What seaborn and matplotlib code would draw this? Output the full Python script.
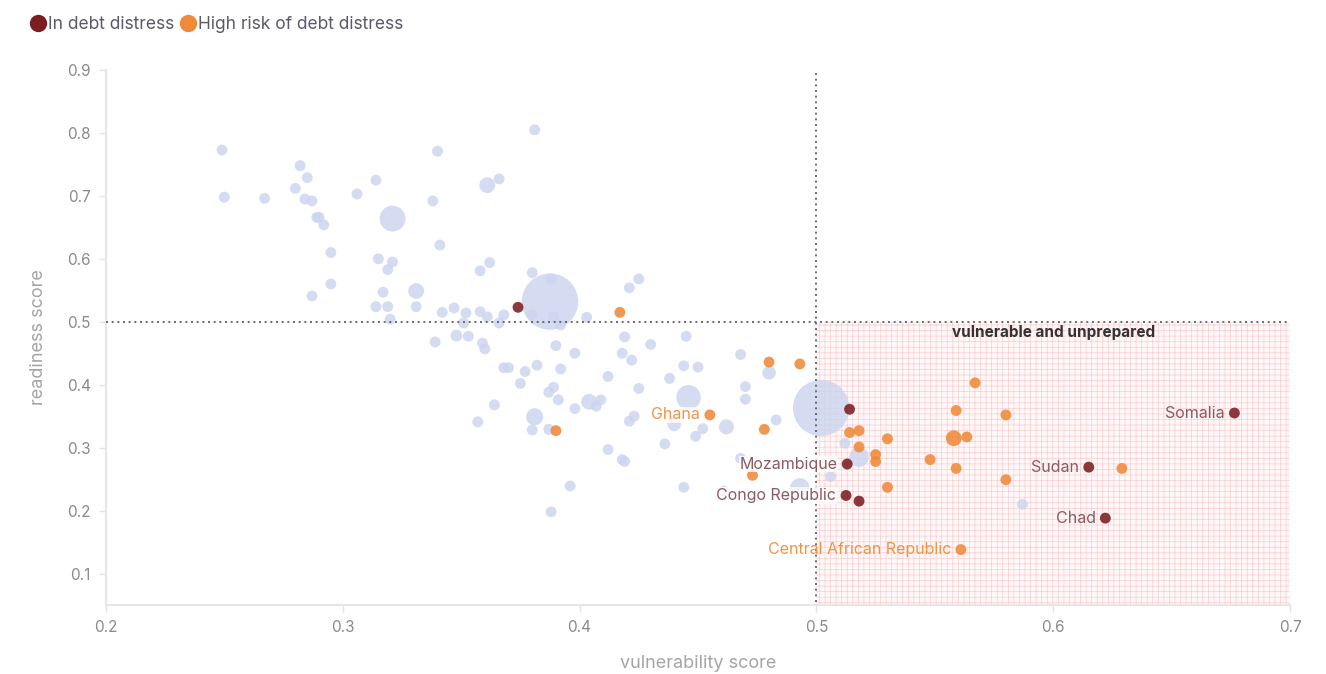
import matplotlib
matplotlib.use("Agg")
import matplotlib.pyplot as plt
from matplotlib.lines import Line2D
from matplotlib.patches import Rectangle
import numpy as np
import pandas as pd
import seaborn as sns

# countries not at risk (lavender bubbles), size ~ population
other_x = [0.249, 0.250, 0.267, 0.282, 0.285, 0.280, 0.284, 0.287, 0.289, 0.290, 0.292, 0.295, 0.295, 0.287,
           0.306, 0.314, 0.321, 0.340, 0.338, 0.341, 0.315, 0.321, 0.319, 0.317, 0.331, 0.314, 0.319, 0.331,
           0.342, 0.347, 0.320,
           0.381, 0.361, 0.366, 0.362, 0.358, 0.380, 0.3875, 0.388, 0.425, 0.421, 0.352, 0.358, 0.368, 0.403,
           0.351, 0.361, 0.366, 0.380, 0.389, 0.392, 0.339, 0.348, 0.353, 0.359, 0.360, 0.390, 0.398, 0.368,
           0.370, 0.377, 0.382, 0.392, 0.375, 0.389, 0.387, 0.391, 0.364, 0.404, 0.398, 0.381, 0.357, 0.380,
           0.387, 0.396, 0.388,
           0.419, 0.430, 0.445, 0.418, 0.422, 0.468, 0.480, 0.412, 0.444, 0.450, 0.438, 0.425, 0.446, 0.470,
           0.470, 0.409, 0.407, 0.423, 0.421, 0.440, 0.452, 0.449, 0.462, 0.483, 0.436, 0.502, 0.412, 0.418,
           0.419, 0.468, 0.444, 0.461, 0.493,
           0.512, 0.518, 0.506, 0.587]
other_y = [0.773, 0.698, 0.696, 0.748, 0.729, 0.712, 0.695, 0.692, 0.666, 0.666, 0.654, 0.610, 0.560, 0.541,
           0.703, 0.725, 0.664, 0.771, 0.692, 0.622, 0.600, 0.595, 0.583, 0.547, 0.549, 0.524, 0.524, 0.524,
           0.515, 0.522, 0.504,
           0.805, 0.717, 0.727, 0.594, 0.581, 0.578, 0.532, 0.568, 0.568, 0.554, 0.514, 0.516, 0.511, 0.507,
           0.498, 0.508, 0.498, 0.511, 0.508, 0.495, 0.468, 0.478, 0.477, 0.466, 0.457, 0.462, 0.450, 0.427,
           0.427, 0.421, 0.431, 0.425, 0.402, 0.396, 0.388, 0.376, 0.368, 0.373, 0.362, 0.349, 0.341, 0.328,
           0.329, 0.239, 0.198,
           0.476, 0.464, 0.477, 0.450, 0.439, 0.448, 0.419, 0.413, 0.430, 0.428, 0.410, 0.394, 0.380, 0.397,
           0.377, 0.376, 0.366, 0.350, 0.342, 0.337, 0.330, 0.318, 0.333, 0.344, 0.306, 0.363, 0.297, 0.281,
           0.278, 0.283, 0.237, 0.231, 0.236,
           0.307, 0.285, 0.254, 0.210]
other_pop = [10, 10, 10, 10, 10, 10, 10, 10, 10, 10, 10, 10, 10, 10,
             10, 10, 260, 10, 10, 10, 10, 10, 10, 10, 70, 10, 10, 10,
             10, 10, 10,
             10, 70, 10, 10, 10, 10, 1400, 10, 10, 10, 10, 10, 10, 10,
             10, 10, 10, 10, 10, 10, 10, 20, 10, 10, 10, 10, 10, 10,
             10, 10, 10, 10, 10, 10, 10, 10, 10, 70, 10, 90, 10, 10,
             10, 10, 10,
             10, 10, 10, 10, 10, 10, 40, 10, 10, 10, 10, 10, 230, 10,
             10, 10, 10, 10, 10, 40, 10, 10, 60, 10, 10, 1400, 10, 10,
             10, 10, 10, 10, 130,
             10, 130, 10, 10]

# high risk of debt distress
high_x = [0.417, 0.390, 0.455, 0.480, 0.493, 0.478, 0.473, 0.514, 0.518, 0.530, 0.518, 0.525, 0.525, 0.530,
          0.548, 0.567, 0.559, 0.580, 0.558, 0.5635, 0.559, 0.580, 0.629, 0.561]
high_y = [0.515, 0.327, 0.352, 0.436, 0.433, 0.329, 0.256, 0.324, 0.327, 0.314, 0.301, 0.289, 0.278, 0.237,
          0.281, 0.403, 0.359, 0.352, 0.315, 0.317, 0.267, 0.249, 0.267, 0.138]
high_pop = [10, 10, 10, 10, 10, 10, 10, 10, 10, 10, 10, 10, 10, 10,
            10, 10, 10, 10, 70, 10, 10, 10, 10, 10]

# in debt distress
distress_x = [0.374, 0.514, 0.513, 0.5125, 0.518, 0.615, 0.622, 0.6765]
distress_y = [0.523, 0.361, 0.274, 0.224, 0.215, 0.269, 0.188, 0.355]
distress_pop = [10, 10, 10, 10, 10, 10, 10, 10]

# labelled countries
label_names = ["Ghana", "Mozambique", "Congo Republic", "Central African Republic", "Somalia", "Sudan", "Chad"]
label_x = [0.455, 0.513, 0.5125, 0.561, 0.6765, 0.615, 0.622]
label_y = [0.352, 0.274, 0.224, 0.138, 0.355, 0.269, 0.188]
label_group = ["high", "distress", "distress", "high", "distress", "distress", "distress"]

LAVENDER = "#cbd4ef"
ORANGE = "#ef8a3a"
DARKRED = "#7a1e22"

sns.set_theme(style="white")
plt.rcParams["font.family"] = ["Inter", "DejaVu Sans"]
plt.rcParams["hatch.linewidth"] = 0.5

others = pd.DataFrame({"x": other_x, "y": other_y, "pop": other_pop})
risk = pd.concat([
    pd.DataFrame({"x": high_x, "y": high_y, "pop": high_pop, "status": "High risk of debt distress"}),
    pd.DataFrame({"x": distress_x, "y": distress_y, "pop": distress_pop, "status": "In debt distress"}),
], ignore_index=True)

fig = plt.figure(figsize=(13.26, 6.74), dpi=100)
ax = fig.add_axes([0.0799, 0.1024, 0.893, 0.7937])

# vulnerable and unprepared quadrant
ax.add_patch(Rectangle((0.5, 0.0), 0.2, 0.5, facecolor="#fff8f8", edgecolor="#fbcdd0",
                       hatch="+++", linewidth=0, zorder=0))

size_kw = dict(size="pop", sizes=(50, 1650), size_norm=(0, 1400), legend=False, linewidth=0)
sns.scatterplot(data=others, x="x", y="y", color=LAVENDER, alpha=0.8, ax=ax, zorder=2, **size_kw)
sns.scatterplot(data=risk, x="x", y="y", hue="status",
                palette={"High risk of debt distress": ORANGE, "In debt distress": DARKRED},
                alpha=0.88, ax=ax, zorder=3, **size_kw)

ax.plot([0.5, 0.5], [0.0, 0.9], color="#555555", lw=1.2, ls=(0, (1.2, 2.2)), zorder=4)
ax.plot([0.2, 0.7], [0.5, 0.5], color="#555555", lw=1.2, ls=(0, (1.2, 2.2)), zorder=4)

ax.text(0.6, 0.4825, "vulnerable and unprepared", ha="center", va="center",
        fontsize=11, fontweight="bold", color="#333333", zorder=5)

for name, lx, ly, grp in zip(label_names, label_x, label_y, label_group):
    col = "#ef9446" if grp == "high" else "#8c5a60"
    bbox = None
    if lx < 0.52:
        bbox = dict(boxstyle="square,pad=0.05", facecolor="white", edgecolor="none", alpha=0.8)
    ax.annotate(name, (lx, ly), xytext=(-7, 0), textcoords="offset points",
                ha="right", va="center", fontsize=11.5, color=col, zorder=6, bbox=bbox)

ax.set_xlim(0.2, 0.7)
ax.set_ylim(0.05, 0.9)
ax.set_xticks([0.2, 0.3, 0.4, 0.5, 0.6, 0.7])
ax.set_xticklabels(["0.2", "0.3", "0.4", "0.5", "0.6", "0.7"])
ax.set_yticks([0.1, 0.2, 0.3, 0.4, 0.5, 0.6, 0.7, 0.8, 0.9])
ax.set_yticklabels(["0.1", "0.2", "0.3", "0.4", "0.5", "0.6", "0.7", "0.8", "0.9"])
ax.tick_params(axis="both", length=5, width=1, color="#e3e3e3", labelcolor="#8a8a8a",
               labelsize=11, direction="out", bottom=True, left=True, pad=6)
for side in ["top", "right"]:
    ax.spines[side].set_visible(False)
for side in ["left", "bottom"]:
    ax.spines[side].set_color("#e6e6e6")
    ax.spines[side].set_linewidth(1.5)

ax.set_xlabel("vulnerability score", fontsize=13, color="#a5a5a5", labelpad=14)
ax.set_ylabel("readiness score", fontsize=13, color="#a5a5a5", labelpad=14)

handles = [
    Line2D([], [], marker="o", ls="", markersize=12.5, markerfacecolor=DARKRED, markeredgewidth=0),
    Line2D([], [], marker="o", ls="", markersize=12.5, markerfacecolor=ORANGE, markeredgewidth=0),
]
fig.legend(handles, ["In debt distress", "High risk of debt distress"], loc="upper left",
           bbox_to_anchor=(0.009, 0.999), ncol=2, frameon=False, fontsize=12.5,
           handletextpad=0.0, columnspacing=0.15, labelcolor="#5a5a6a", handlelength=1.2)

fig.savefig("out.png", dpi=100)
